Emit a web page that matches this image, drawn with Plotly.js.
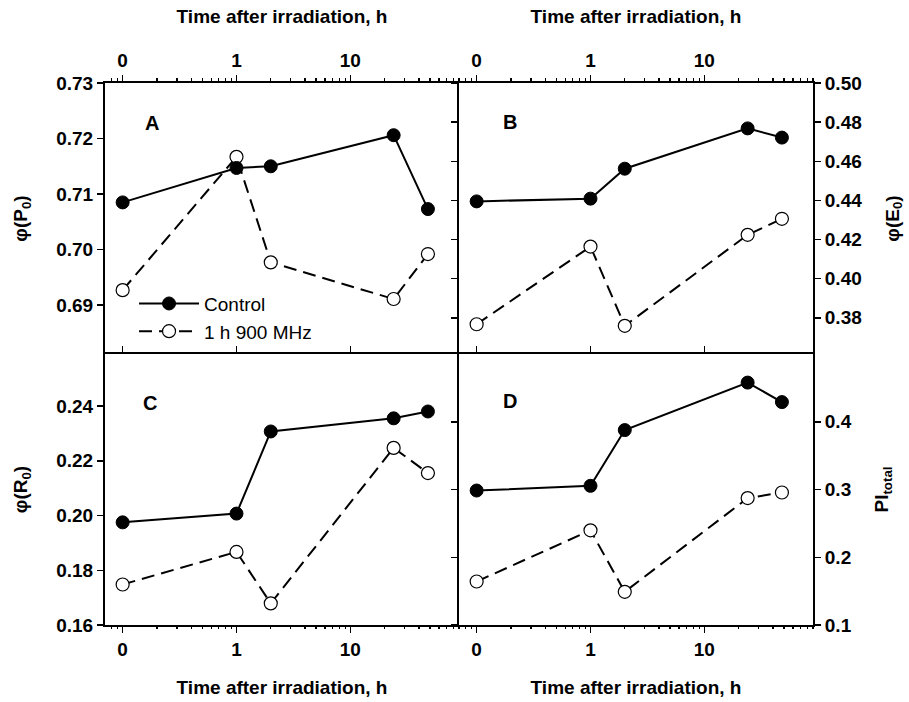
<!DOCTYPE html>
<html><head><meta charset="utf-8">
<script src="https://cdn.plot.ly/plotly-3.0.1.min.js"></script>
<style>html,body{margin:0;padding:0;background:#fff}#chart{width:909px;height:702px}</style>
</head><body><div id="chart"></div>
<script>
// 0 h is drawn at 0.1 on the log time axis (labelled "0")
const timeH = [0.1, 1, 2, 24, 48];
const xTickVals = [0.1, 1, 10];
const xTickText = ['0', '1', '10'];
const xMinorVals = [0.08, 0.09, 0.2, 0.3, 0.4, 0.5, 0.6, 0.7, 0.8, 0.9,
  2, 3, 4, 5, 6, 7, 8, 9, 20, 30, 40, 50, 60, 70, 80, 90];

const seriesNames = ['Control', '1 h 900 MHz'];

const phiP0_control = [0.7085, 0.7147, 0.7150, 0.7206, 0.7073];
const phiP0_mhz     = [0.6927, 0.7167, 0.6977, 0.6911, 0.6992];
const phiE0_control = [0.4395, 0.4409, 0.4562, 0.4768, 0.4721];
const phiE0_mhz     = [0.3767, 0.4164, 0.3759, 0.4224, 0.4306];
const phiR0_control = [0.1975, 0.2007, 0.2307, 0.2355, 0.2380];
const phiR0_mhz     = [0.1748, 0.1867, 0.1679, 0.2247, 0.2155];
const PItot_control = [0.2985, 0.3054, 0.3877, 0.4578, 0.4290];
const PItot_mhz     = [0.1642, 0.2397, 0.1490, 0.2873, 0.2956];

const yTicksA = [0.69, 0.70, 0.71, 0.72, 0.73];
const yTicksB = [0.38, 0.40, 0.42, 0.44, 0.46, 0.48, 0.50];
const yTicksC = [0.16, 0.18, 0.20, 0.22, 0.24];
const yTicksD = [0.1, 0.2, 0.3, 0.4];

const panelLetters = ['A', 'B', 'C', 'D'];
const xTitle = 'Time after irradiation, h';

const FONT = 'Liberation Sans, Arial, sans-serif';
const boldFont = {family: FONT, size: 19, color: '#000', weight: 700};

function ctrl(y, xa, ya, show) {
  return {x: timeH, y: y, xaxis: xa, yaxis: ya, type: 'scatter', mode: 'lines+markers',
    name: seriesNames[0], showlegend: show, legendrank: 1,
    line: {color: '#000', width: 2},
    marker: {symbol: 'circle', size: 13, color: '#000', line: {color: '#000', width: 1}}};
}
function mhz(y, xa, ya, show) {
  return {x: timeH, y: y, xaxis: xa, yaxis: ya, type: 'scatter', mode: 'lines+markers',
    name: seriesNames[1], showlegend: show, legendrank: 2,
    line: {color: '#000', width: 2, dash: '13px,7px'},
    marker: {symbol: 'circle', size: 13, color: '#fff', line: {color: '#000', width: 1.2}}};
}

const data = [
  mhz(phiP0_mhz, 'x', 'y', true), ctrl(phiP0_control, 'x', 'y', true),
  mhz(phiE0_mhz, 'x2', 'y2', false), ctrl(phiE0_control, 'x2', 'y2', false),
  mhz(phiR0_mhz, 'x3', 'y3', false), ctrl(phiR0_control, 'x3', 'y3', false),
  mhz(PItot_mhz, 'x4', 'y4', false), ctrl(PItot_control, 'x4', 'y4', false),
  {x: [], y: [], xaxis: 'x5', yaxis: 'y3', type: 'scatter', showlegend: false, hoverinfo: 'skip'},
  {x: [], y: [], xaxis: 'x6', yaxis: 'y4', type: 'scatter', showlegend: false, hoverinfo: 'skip'}
];

const xRange = [Math.log10(0.07), Math.log10(90)];

function xAxis(domain, anchor, side, mirror, withMinor) {
  const ax = {domain: domain, anchor: anchor, side: side, type: 'log', range: xRange,
    tickmode: 'array', tickvals: xTickVals, ticktext: xTickText,
    ticks: 'outside', ticklen: 6, tickwidth: 1.5, tickcolor: '#000',
    showline: true, linewidth: 2, linecolor: '#000', mirror: mirror,
    showgrid: false, zeroline: false, tickfont: boldFont, fixedrange: true,
    title: {text: xTitle, font: boldFont, standoff: 22}};
  if (withMinor) ax.minor = {tickmode: 'array', tickvals: xMinorVals, ticks: 'outside',
    ticklen: 3, tickwidth: 1.2, tickcolor: '#000', showgrid: false};
  return ax;
}
function minorAxis(over, anchor) {
  return {overlaying: over, anchor: anchor, side: 'bottom', type: 'log', range: xRange,
    tickmode: 'array', tickvals: xMinorVals, ticks: 'outside', ticklen: 3, tickwidth: 1.2,
    tickcolor: '#000', showticklabels: false, showline: false, showgrid: false, zeroline: false,
    fixedrange: true};
}
function yAxis(domain, anchor, side, mirror, range, ticks, fmt, title) {
  return {domain: domain, anchor: anchor, side: side, range: range,
    tickmode: 'array', tickvals: ticks, tickformat: fmt,
    ticks: 'outside', ticklen: 6, tickwidth: 1.5, tickcolor: '#000',
    showline: true, linewidth: 2, linecolor: '#000', mirror: mirror,
    showgrid: false, zeroline: false, tickfont: boldFont, fixedrange: true,
    title: {text: title, font: boldFont, standoff: 24}};
}

const layout = {
  width: 909, height: 702,
  margin: {l: 105, r: 96, t: 83, b: 77},
  paper_bgcolor: '#fff', plot_bgcolor: '#fff',
  font: {family: FONT, color: '#000'},
  // inner boundaries are drawn once, by the mirrored axis of the neighbouring panel
  xaxis:  xAxis([0, 0.5], 'y', 'top', false, true),
  xaxis2: xAxis([0.5, 1], 'y2', 'top', false, true),
  xaxis3: xAxis([0, 0.5], 'y3', 'bottom', 'ticks', false),
  xaxis4: xAxis([0.5, 1], 'y4', 'bottom', 'ticks', false),
  xaxis5: minorAxis('x3', 'y3'),
  xaxis6: minorAxis('x4', 'y4'),
  yaxis:  yAxis([0.5, 1], 'x', 'left', false, [0.6812, 0.73], yTicksA, '.2f', 'φ(P<sub>0</sub>)'),
  yaxis2: yAxis([0.5, 1], 'x2', 'right', 'ticks', [0.3615, 0.50], yTicksB, '.2f', 'φ(E<sub>0</sub>)'),
  yaxis3: yAxis([0, 0.5], 'x3', 'left', false, [0.16, 0.259], yTicksC, '.2f', 'φ(R<sub>0</sub>)'),
  yaxis4: yAxis([0, 0.5], 'x4', 'right', 'ticks', [0.1, 0.5], yTicksD, '.1f', 'PI<sub>total</sub>'),
  showlegend: true,
  legend: {x: 0.041, y: 0.628, xanchor: 'left', yanchor: 'top', bgcolor: 'rgba(0,0,0,0)',
    font: {family: FONT, size: 19, color: '#000'}, itemwidth: 60, traceorder: 'normal',
    tracegroupgap: 0},
  annotations: [
    {xref: 'x domain', yref: 'y domain', x: 0.133, y: 0.852, text: panelLetters[0]},
    {xref: 'x2 domain', yref: 'y2 domain', x: 0.143, y: 0.855, text: panelLetters[1]},
    {xref: 'x3 domain', yref: 'y3 domain', x: 0.127, y: 0.82, text: panelLetters[2]},
    {xref: 'x4 domain', yref: 'y4 domain', x: 0.143, y: 0.827, text: panelLetters[3]}
  ].map(a => Object.assign(a, {showarrow: false, xanchor: 'center', yanchor: 'middle',
    font: {family: FONT, size: 20, color: '#000', weight: 700}}))
};

Plotly.newPlot('chart', data, layout, {displayModeBar: false, staticPlot: true});
</script>
</body></html>
